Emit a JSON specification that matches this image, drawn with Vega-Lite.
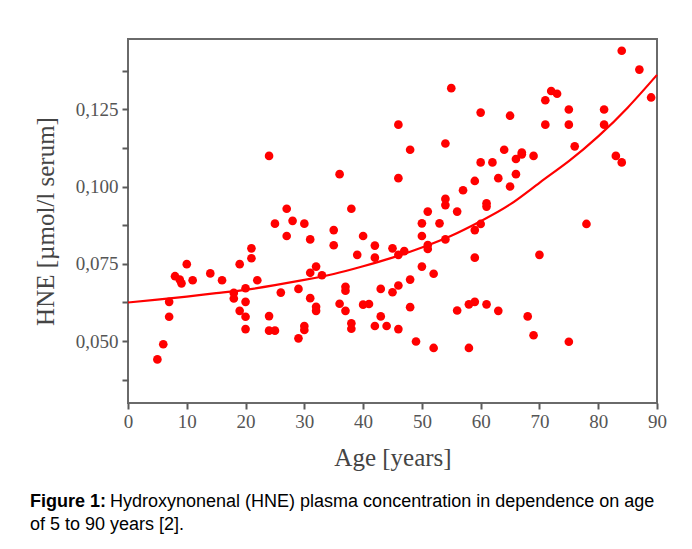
{
  "$schema": "https://vega.github.io/schema/vega-lite/v6.json",
  "width": 529,
  "height": 364,
  "autosize": {"type": "none"},
  "padding": {"left": 128, "top": 39, "right": 35, "bottom": 146},
  "background": "white",
  "config": {
    "view": {"stroke": "#6a6a6a", "strokeWidth": 2},
    "font": "Liberation Serif"
  },
  "title": {
    "text": "Figure 1:",
    "subtitle": ["\u200b\u00a0\u00a0\u00a0\u00a0\u00a0\u00a0\u00a0\u00a0\u00a0\u00a0\u00a0\u00a0\u00a0\u00a0\u00a0\u00a0Hydroxynonenal (HNE) plasma concentration in dependence on age", "of 5 to 90 years [2]."],
    "orient": "bottom",
    "anchor": "start",
    "frame": "group",
    "dx": -98,
    "offset": 23,
    "font": "Liberation Sans",
    "fontSize": 18,
    "fontWeight": "bold",
    "color": "#000000",
    "subtitleFont": "Liberation Sans",
    "subtitleFontSize": 18,
    "subtitleFontWeight": "normal",
    "subtitleColor": "#000000",
    "subtitleLineHeight": 23,
    "subtitlePadding": -18
  },
  "layer": [
    {
      "data": {"values": [
        {"age": 5, "hne": 0.0441}, {"age": 6, "hne": 0.049}, {"age": 7, "hne": 0.0579}, {"age": 7, "hne": 0.0627},
        {"age": 8, "hne": 0.071}, {"age": 8.8, "hne": 0.0699}, {"age": 9.1, "hne": 0.0687}, {"age": 10, "hne": 0.0749},
        {"age": 11, "hne": 0.0697}, {"age": 14, "hne": 0.0719}, {"age": 16, "hne": 0.0697}, {"age": 18, "hne": 0.0656},
        {"age": 18, "hne": 0.0638}, {"age": 19, "hne": 0.0749}, {"age": 19, "hne": 0.0598}, {"age": 20, "hne": 0.0671},
        {"age": 20, "hne": 0.0627}, {"age": 20, "hne": 0.0579}, {"age": 20, "hne": 0.0539}, {"age": 21, "hne": 0.0768},
        {"age": 21, "hne": 0.08}, {"age": 22, "hne": 0.0697}, {"age": 24, "hne": 0.1099}, {"age": 24, "hne": 0.0581},
        {"age": 24, "hne": 0.0534}, {"age": 25, "hne": 0.0534}, {"age": 25, "hne": 0.088}, {"age": 26, "hne": 0.0657},
        {"age": 27, "hne": 0.0928}, {"age": 27, "hne": 0.084}, {"age": 28, "hne": 0.0889}, {"age": 29, "hne": 0.0669},
        {"age": 29, "hne": 0.0509}, {"age": 30, "hne": 0.088}, {"age": 30, "hne": 0.0549}, {"age": 30, "hne": 0.0536},
        {"age": 31, "hne": 0.0829}, {"age": 31, "hne": 0.0639}, {"age": 31, "hne": 0.0721}, {"age": 32, "hne": 0.0741},
        {"age": 32, "hne": 0.0611}, {"age": 32, "hne": 0.0598}, {"age": 33, "hne": 0.0713}, {"age": 35, "hne": 0.0859},
        {"age": 35, "hne": 0.081}, {"age": 36, "hne": 0.104}, {"age": 36, "hne": 0.0621}, {"age": 37, "hne": 0.0676},
        {"age": 37, "hne": 0.0663}, {"age": 37, "hne": 0.0598}, {"age": 38, "hne": 0.0928}, {"age": 38, "hne": 0.0558},
        {"age": 38, "hne": 0.054}, {"age": 39, "hne": 0.0779}, {"age": 40, "hne": 0.084}, {"age": 40, "hne": 0.0618},
        {"age": 41, "hne": 0.062}, {"age": 42, "hne": 0.0809}, {"age": 42, "hne": 0.077}, {"age": 42, "hne": 0.0549},
        {"age": 43, "hne": 0.0669}, {"age": 43, "hne": 0.058}, {"age": 44, "hne": 0.0549}, {"age": 45, "hne": 0.08},
        {"age": 45, "hne": 0.0658}, {"age": 46, "hne": 0.0779}, {"age": 46, "hne": 0.068}, {"age": 46, "hne": 0.0539},
        {"age": 46, "hne": 0.1027}, {"age": 46, "hne": 0.12}, {"age": 47, "hne": 0.0791}, {"age": 48, "hne": 0.1119},
        {"age": 48, "hne": 0.0699}, {"age": 48, "hne": 0.061}, {"age": 49, "hne": 0.0499}, {"age": 50, "hne": 0.0881},
        {"age": 50, "hne": 0.084}, {"age": 50, "hne": 0.0741}, {"age": 51, "hne": 0.0919}, {"age": 51, "hne": 0.0811},
        {"age": 51, "hne": 0.0798}, {"age": 52, "hne": 0.0718}, {"age": 52, "hne": 0.0478}, {"age": 53, "hne": 0.0881},
        {"age": 54, "hne": 0.1139}, {"age": 54, "hne": 0.096}, {"age": 54, "hne": 0.094}, {"age": 54, "hne": 0.0829},
        {"age": 55, "hne": 0.1318}, {"age": 56, "hne": 0.0919}, {"age": 56, "hne": 0.0599}, {"age": 57, "hne": 0.0988},
        {"age": 58, "hne": 0.0619}, {"age": 58, "hne": 0.0478}, {"age": 59, "hne": 0.1018}, {"age": 59, "hne": 0.0859},
        {"age": 59, "hne": 0.077}, {"age": 59, "hne": 0.0627}, {"age": 60, "hne": 0.1239}, {"age": 60, "hne": 0.1078},
        {"age": 60, "hne": 0.0879}, {"age": 61, "hne": 0.0946}, {"age": 61, "hne": 0.0935}, {"age": 61, "hne": 0.0619},
        {"age": 62, "hne": 0.1078}, {"age": 63, "hne": 0.1027}, {"age": 63, "hne": 0.0598}, {"age": 64, "hne": 0.1119},
        {"age": 65, "hne": 0.1229}, {"age": 65, "hne": 0.1}, {"age": 66, "hne": 0.104}, {"age": 66, "hne": 0.1089},
        {"age": 67, "hne": 0.1104}, {"age": 67, "hne": 0.111}, {"age": 68, "hne": 0.058}, {"age": 69, "hne": 0.1099},
        {"age": 69, "hne": 0.0519}, {"age": 70, "hne": 0.0779}, {"age": 71, "hne": 0.1279}, {"age": 71, "hne": 0.12},
        {"age": 72, "hne": 0.1309}, {"age": 73, "hne": 0.13}, {"age": 75, "hne": 0.1249}, {"age": 75, "hne": 0.12},
        {"age": 75, "hne": 0.0498}, {"age": 76, "hne": 0.113}, {"age": 78, "hne": 0.0879}, {"age": 81, "hne": 0.1249},
        {"age": 81, "hne": 0.12}, {"age": 83, "hne": 0.1099}, {"age": 84, "hne": 0.1078}, {"age": 84, "hne": 0.1439},
        {"age": 87, "hne": 0.1378}, {"age": 89, "hne": 0.1288}
      ]},
      "mark": {"type": "circle", "color": "#ff0000", "size": 75, "opacity": 1},
      "encoding": {
        "x": {
          "field": "age", "type": "quantitative",
          "scale": {"domain": [0, 90], "nice": false, "zero": false},
          "axis": {
            "title": "Age [years]",
            "values": [0, 5, 10, 15, 20, 25, 30, 35, 40, 45, 50, 55, 60, 65, 70, 75, 80, 85, 90],
            "labelExpr": "datum.value % 10 === 0 ? datum.label : ''",
            "format": "d",
            "grid": false,
            "domain": false,
            "ticks": true,
            "tickColor": "#5a5a5a",
            "tickWidth": 2,
            "tickSize": 6,
            "labelPadding": 3,
            "labelFont": "Liberation Serif",
            "labelFontSize": 19,
            "labelColor": "#555555",
            "labelFlush": false,
            "labelOverlap": false,
            "titleFont": "Liberation Serif",
            "titleFontSize": 25,
            "titleFontWeight": "normal",
            "titleColor": "#444444",
            "titlePadding": 14
          }
        },
        "y": {
          "field": "hne", "type": "quantitative",
          "scale": {"domain": [0.03, 0.1477], "nice": false, "zero": false},
          "axis": {
            "title": "HNE [µmol/l serum]",
            "values": [0.0375, 0.05, 0.0625, 0.075, 0.0875, 0.1, 0.1125, 0.125, 0.1375],
            "labelExpr": "round(datum.value * 80) % 2 === 0 ? replace(format(datum.value, '.3f'), '.', ',') : ''",
            "grid": false,
            "domain": false,
            "ticks": true,
            "tickColor": "#5a5a5a",
            "tickWidth": 2,
            "tickSize": 6,
            "labelPadding": 4,
            "labelFont": "Liberation Serif",
            "labelFontSize": 19,
            "labelColor": "#555555",
            "labelFlush": false,
            "labelOverlap": false,
            "titleFont": "Liberation Serif",
            "titleFontSize": 25,
            "titleFontWeight": "normal",
            "titleColor": "#444444",
            "titlePadding": 17
          }
        }
      }
    },
    {
      "data": {"values": [
        {"age": 0, "fit": 0.0625}, {"age": 5, "fit": 0.0634}, {"age": 10, "fit": 0.0644}, {"age": 15, "fit": 0.0655},
        {"age": 20, "fit": 0.0666}, {"age": 25, "fit": 0.0681}, {"age": 30, "fit": 0.0698}, {"age": 35, "fit": 0.0717},
        {"age": 40, "fit": 0.0742}, {"age": 45, "fit": 0.077}, {"age": 50, "fit": 0.0803}, {"age": 55, "fit": 0.0841},
        {"age": 60, "fit": 0.0888}, {"age": 65, "fit": 0.0942}, {"age": 70, "fit": 0.1012}, {"age": 75, "fit": 0.1082},
        {"age": 80, "fit": 0.1162}, {"age": 85, "fit": 0.1255}, {"age": 90, "fit": 0.1361}
      ]},
      "mark": {"type": "line", "color": "#ff0000", "strokeWidth": 2.2, "interpolate": "natural"},
      "encoding": {
        "x": {"field": "age", "type": "quantitative"},
        "y": {"field": "fit", "type": "quantitative"}
      }
    }
  ]
}
